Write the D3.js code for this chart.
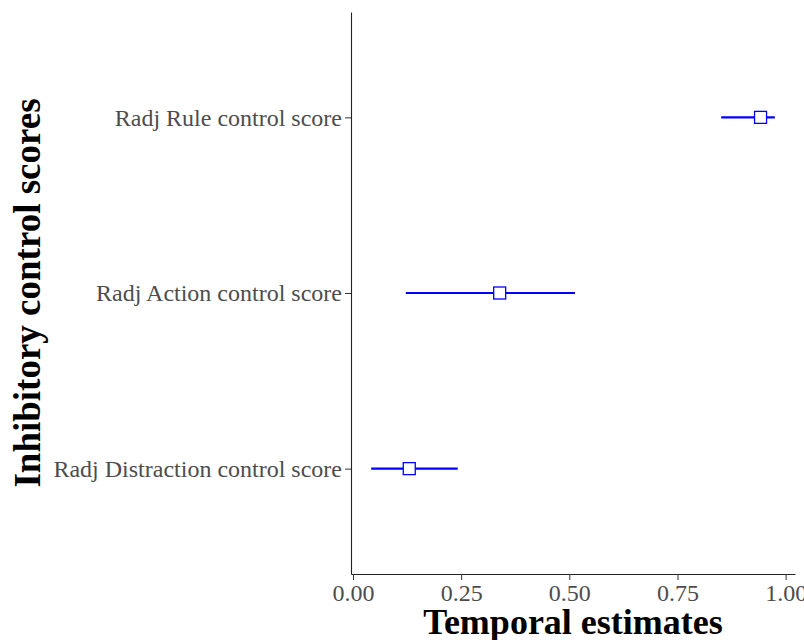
<!DOCTYPE html>
<html lang="en">
<head>
<meta charset="UTF-8">
<title>Temporal estimates</title>
<script src="https://d3js.org/d3.v7.min.js"></script>
<style>
  body { margin: 0; background: #fff; }
  svg text { font-family: "Liberation Serif", "Times New Roman", serif; }
</style>
</head>
<body>
<div id="chart"></div>
<script>
// data
var categories = ["Radj Distraction control score", "Radj Action control score", "Radj Rule control score"];
var estimates = [0.130, 0.339, 0.942];
var lower = [0.042, 0.122, 0.851];
var upper = [0.242, 0.513, 0.975];
var xTicks = [0, 0.25, 0.5, 0.75, 1];

var width = 804, height = 640;
var margin = {top: 12, right: 9, bottom: 66, left: 351};

var svg = d3.select("#chart").append("svg")
    .attr("width", width)
    .attr("height", height);

var rows = categories.map(function(c, i) {
    return {name: c, est: estimates[i], lo: lower[i], hi: upper[i]};
});

// ggplot style 5% expansion
var xmin = d3.min(lower), xmax = d3.max(upper);
var pad = (xmax - xmin) * 0.05;
var x = d3.scaleLinear()
    .domain([xmin - pad, xmax + pad])
    .range([margin.left, width - margin.right]);

var plotH = height - margin.top - margin.bottom;
var y = d3.scalePoint()
    .domain(categories)
    .range([height - margin.bottom, margin.top])
    .padding(0.6);

// axes
var xAxis = svg.append("g")
    .attr("transform", "translate(0," + (height - margin.bottom) + ")")
    .call(d3.axisBottom(x).tickValues(xTicks).tickFormat(d3.format(".2f")).tickSize(6).tickSizeOuter(0));
xAxis.select(".domain").attr("stroke", "#222").attr("stroke-width", 1.1);
xAxis.selectAll(".tick line").attr("stroke", "#333");
xAxis.selectAll(".tick text")
    .attr("fill", "#4d4d4d")
    .attr("font-size", 24)
    .attr("y", 27)
    .attr("dy", 0);

var yAxis = svg.append("g")
    .attr("transform", "translate(" + margin.left + ",0)")
    .call(d3.axisLeft(y).tickSize(6).tickSizeOuter(0));
yAxis.select(".domain").attr("stroke", "#222").attr("stroke-width", 1.1);
yAxis.selectAll(".tick line").attr("stroke", "#333");
yAxis.selectAll(".tick text")
    .attr("fill", "#4d4d4d")
    .attr("font-size", 24)
    .attr("x", -9)
    .attr("dy", "0.33em");

// error bars
svg.append("g").selectAll("line")
    .data(rows)
    .enter()
    .append("line")
    .attr("x1", function(d) { return x(d.lo); })
    .attr("x2", function(d) { return x(d.hi); })
    .attr("y1", function(d) { return y(d.name); })
    .attr("y2", function(d) { return y(d.name); })
    .attr("stroke", "#0000ff")
    .attr("stroke-width", 2.2);

// point estimates, open squares
var sq = 12;
svg.append("g").selectAll("rect")
    .data(rows)
    .enter()
    .append("rect")
    .attr("x", function(d) { return x(d.est) - sq / 2; })
    .attr("y", function(d) { return y(d.name) - sq / 2; })
    .attr("width", sq)
    .attr("height", sq)
    .attr("fill", "#fff")
    .attr("stroke", "#0000ff")
    .attr("stroke-width", 1.3);

// titles
svg.append("text")
    .attr("x", (margin.left + width - margin.right) / 2)
    .attr("y", 634)
    .attr("text-anchor", "middle")
    .attr("font-size", 36)
    .attr("font-weight", "bold")
    .attr("fill", "#000")
    .text("Temporal estimates");

svg.append("text")
    .attr("transform", "translate(40," + (margin.top + plotH / 2) + ") rotate(-90)")
    .attr("text-anchor", "middle")
    .attr("font-size", 37)
    .attr("font-weight", "bold")
    .attr("fill", "#000")
    .text("Inhibitory control scores");
</script>
</body>
</html>
